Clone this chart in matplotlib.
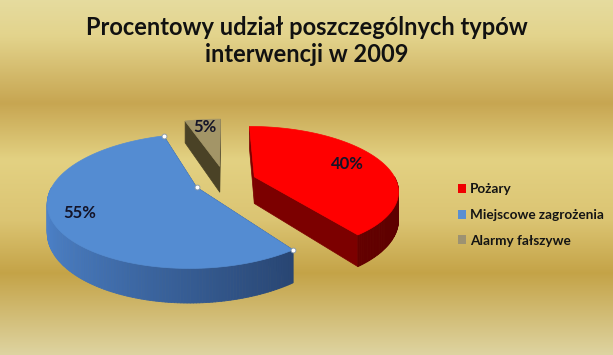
import numpy as np
import matplotlib
matplotlib.use("Agg")
import matplotlib.pyplot as plt
from matplotlib.patches import Polygon, Patch
from matplotlib.collections import PolyCollection

# === Data ===
labels = ["Pożary", "Miejscowe zagrożenia", "Alarmy fałszywe"]
values = [40, 55, 5]
pct_labels = ["40%", "55%", "5%"]
explode = [0.22, 0.22, 0.25]

# === Style ===
top_colors = ["#ff0000", "#548cd2", "#a39567"]
legend_colors = ["#f00000", "#5a8fd2", "#9d9272"]
side_light = [(0.50, 0.0, 0.0), (0.30, 0.51, 0.79), (0.33, 0.29, 0.17)]
side_dark = [(0.36, 0.0, 0.0), (0.12, 0.21, 0.36), (0.25, 0.22, 0.13)]
face_colors = ["#7c0000", "#24406a", "#4a4226"]
label_r = [0.74, 0.82, 0.82]

plt.rcParams["font.family"] = ["Lato", "DejaVu Sans"]

# projection params (pixel space)
CX, CY = 225, 181
RX, RY = 142, 62
K = 0.2
H = 27


def proj(u, v, z=0.0):
    f = 1.0 / (1.0 + K * v)
    return CX + u * RX * f, CY - v * RY * f + z * H * f


fig = plt.figure(figsize=(6.13, 3.55), dpi=100)
ax = fig.add_axes([0, 0, 1, 1])
ax.set_xlim(0, 613)
ax.set_ylim(355, 0)
ax.axis("off")

# === Gold background ===
stops = [0.0, 0.10, 0.29, 0.45, 0.62, 0.77, 1.0]
cols = np.array([
    [0.90, 0.86, 0.62],
    [0.89, 0.83, 0.55],
    [0.78, 0.65, 0.32],
    [0.89, 0.82, 0.51],
    [0.86, 0.77, 0.45],
    [0.77, 0.64, 0.28],
    [0.87, 0.83, 0.63],
])
yy = np.linspace(0, 1, 355)
grad = np.stack([np.interp(yy, stops, cols[:, c]) for c in range(3)], axis=-1)
ax.imshow(grad[:, None, :], extent=[0, 613, 355, 0], aspect="auto", zorder=0)

# === 3D exploded pie ===
total = sum(values)
start = 0.0
wedges = []
for i, val in enumerate(values):
    span = 360.0 * val / total
    wedges.append((i, start, start + span))
    start += span

# back-to-front drawing order
order = sorted(wedges, key=lambda w: np.cos(np.radians((w[1] + w[2]) / 2)), reverse=True)

for i, a0, a1 in order:
    mid = np.radians((a0 + a1) / 2)
    pu, pv = explode[i] * np.sin(mid), explode[i] * np.cos(mid)
    z0 = 10 + i

    def pt(theta, r=1.0, z=0.0):
        t = np.radians(theta)
        return proj(pu + r * np.sin(t), pv + r * np.cos(t), z)

    # radial cut faces
    for a in (a0, a1):
        quad = [proj(pu, pv, 0), pt(a), pt(a, z=1), proj(pu, pv, 1)]
        ax.add_patch(Polygon(quad, closed=True, facecolor=face_colors[i],
                             edgecolor=face_colors[i], lw=0.5, zorder=z0))

    # outer curved side (front half only)
    lo, hi = max(a0, 90), min(a1, 270)
    if hi > lo:
        th = np.linspace(lo, hi, int(hi - lo) + 2)
        quads, qcols = [], []
        for t1, t2 in zip(th[:-1], th[1:]):
            quads.append([pt(t1), pt(t2), pt(t2, z=1), pt(t1, z=1)])
            s = (1 - np.sin(np.radians((t1 + t2) / 2))) / 2  # 1 at left, 0 at right
            c = np.array(side_dark[i]) + s * (np.array(side_light[i]) - np.array(side_dark[i]))
            qcols.append(c)
        ax.add_collection(PolyCollection(quads, facecolors=qcols, edgecolors=qcols,
                                         linewidths=0.6, zorder=z0 + 0.1))

    # top face
    th = np.linspace(a0, a1, max(int(a1 - a0), 2) + 1)
    top = [proj(pu, pv, 0)] + [pt(t) for t in th]
    ax.add_patch(Polygon(top, closed=True, facecolor=top_colors[i],
                         edgecolor=top_colors[i], lw=0.5, zorder=z0 + 0.2))

    lx, ly = pt(np.degrees(mid), r=label_r[i])
    ax.text(lx, ly, pct_labels[i], ha="center", va="center", fontsize=12,
            fontweight="bold", color="#141428", zorder=30)

    # selection handles on the blue series
    if i == 1:
        hx, hy = zip(proj(pu, pv, 0), pt(a0), pt(a1))
        ax.plot(hx, hy, "o", ms=3.5, mfc="white", mec="#8899aa", mew=0.6,
                ls="none", zorder=31)

# === Title ===
ax.text(307, 41, "Procentowy udział poszczególnych typów\ninterwencji w 2009",
        ha="center", va="center", fontsize=17, fontweight="bold",
        color="#111111", linespacing=1.2, zorder=30)

# === Legend ===
handles = [Patch(facecolor=c, edgecolor="none") for c in legend_colors]
leg = ax.legend(handles, labels, loc="center left",
                bbox_to_anchor=(451 / 613, 1 - 215 / 355),
                frameon=False, fontsize=9.8, handlelength=0.6, handleheight=0.6,
                handletextpad=0.3, labelspacing=1.0, borderpad=0)
for t in leg.get_texts():
    t.set_fontweight("bold")
    t.set_color("#141414")

plt.savefig("out.png", dpi=100)
plt.close()
